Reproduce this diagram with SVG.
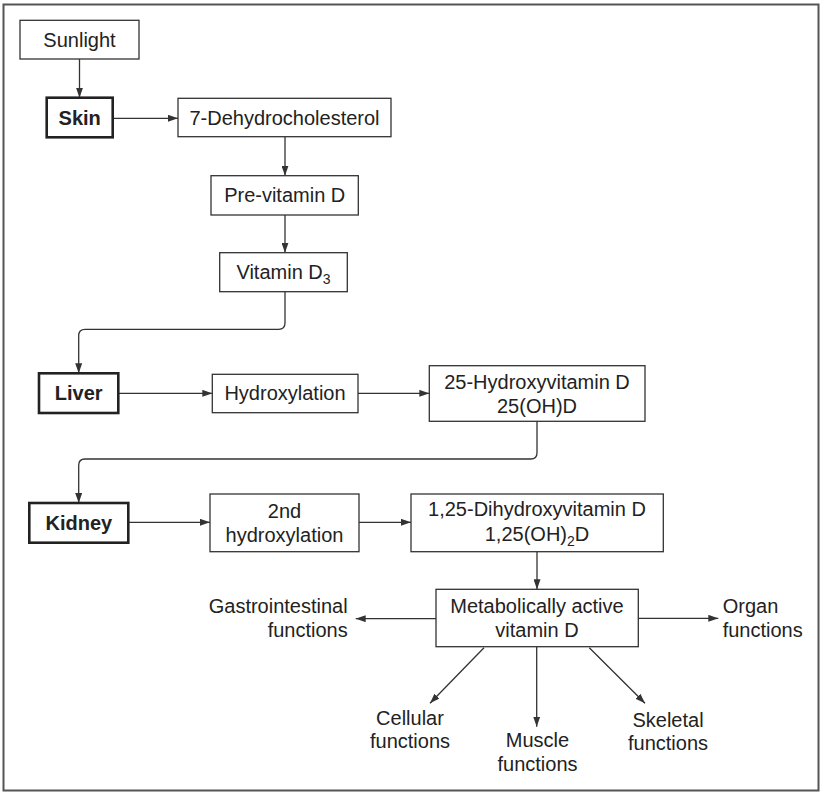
<svg xmlns="http://www.w3.org/2000/svg" width="821" height="792" viewBox="0 0 821 792">
<style>
  .box { fill: #fff; stroke: #333; stroke-width: 1.3; }
  .bold { fill: #fff; stroke: #222; stroke-width: 2.6; }
  .t { font-family: "Liberation Sans", Arial, sans-serif; font-size: 20px; fill: #222; text-anchor: middle; }
  .tb { font-family: "Liberation Sans", Arial, sans-serif; font-size: 20px; font-weight: bold; fill: #222; text-anchor: middle; }
  .l { text-anchor: start; }
  .r { text-anchor: end; }
  .sub { font-size: 14px; }
  .c { fill: none; stroke: #333; stroke-width: 1.3; marker-end: url(#ah); }
</style>
<defs>
  <marker id="ah" markerUnits="userSpaceOnUse" markerWidth="10" markerHeight="7" refX="10" refY="3.5" orient="auto">
    <path d="M0,0 L10,3.5 L0,7 z" fill="#333"/>
  </marker>
</defs>
<rect x="3.5" y="4.5" width="815" height="786" fill="#fff" stroke="#555" stroke-width="2"/>

<g id="connectors">
  <path class="c" d="M79.5,59 V97.7"/>
  <path class="c" d="M112.7,118.3 H178"/>
  <path class="c" d="M285,136.7 V175.7"/>
  <path class="c" d="M285,215 V252.7"/>
  <path class="c" d="M285,291.7 V323 Q285,329.3 278.7,329.3 H85 Q78.7,329.3 78.7,335.6 V373.3"/>
  <path class="c" d="M118.3,393.3 H212.3"/>
  <path class="c" d="M358,393.3 H429.3"/>
  <path class="c" d="M537,421.3 V452.7 Q537,459 530.7,459 H85 Q78.7,459 78.7,465.3 V503"/>
  <path class="c" d="M128.3,522.3 H210"/>
  <path class="c" d="M359,522.3 H411"/>
  <path class="c" d="M537,551.7 V589.3"/>
  <path class="c" d="M436,618.7 H355.7"/>
  <path class="c" d="M638.3,618.3 H718.3"/>
  <path class="c" d="M484,647.7 L430,703.3"/>
  <path class="c" d="M536.7,646.7 V726.7"/>
  <path class="c" d="M589.3,647.7 L645,703.3"/>
</g>

<g id="sunlight">
  <rect class="box" x="20" y="20.3" width="119" height="38.7"/>
  <text class="t" x="79.5" y="46.7">Sunlight</text>
</g>
<g id="skin">
  <rect class="bold" x="46.7" y="97.7" width="66" height="39.6"/>
  <text class="tb" x="79.7" y="124.5">Skin</text>
</g>
<g id="dehydrocholesterol">
  <rect class="box" x="178" y="98.3" width="213" height="38.4"/>
  <text class="t" x="284.5" y="124.5">7-Dehydrocholesterol</text>
</g>
<g id="previtamin">
  <rect class="box" x="211" y="175.7" width="147.3" height="39.3"/>
  <text class="t" x="284.7" y="202.3">Pre-vitamin D</text>
</g>
<g id="vitamind3">
  <rect class="box" x="219.7" y="252.7" width="127.6" height="39"/>
  <text class="t" x="283.5" y="279.2">Vitamin D<tspan class="sub" dy="5">3</tspan></text>
</g>
<g id="liver">
  <rect class="bold" x="39" y="373.3" width="79.3" height="39.7"/>
  <text class="tb" x="78.7" y="400">Liver</text>
</g>
<g id="hydroxylation">
  <rect class="box" x="212.3" y="374.3" width="145.7" height="38.4"/>
  <text class="t" x="285" y="400">Hydroxylation</text>
</g>
<g id="hydroxyvitamin">
  <rect class="box" x="429.3" y="365.7" width="215.7" height="55.6"/>
  <text class="t" x="537" y="389">25-Hydroxyvitamin D</text>
  <text class="t" x="537" y="413">25(OH)D</text>
</g>
<g id="kidney">
  <rect class="bold" x="29.3" y="503" width="99" height="39.7"/>
  <text class="tb" x="78.8" y="529.8">Kidney</text>
</g>
<g id="second-hydroxylation">
  <rect class="box" x="210" y="494" width="149" height="57.7"/>
  <text class="t" x="284.5" y="517.7">2nd</text>
  <text class="t" x="284.5" y="542">hydroxylation</text>
</g>
<g id="dihydroxyvitamin">
  <rect class="box" x="411" y="494" width="252.3" height="57.7"/>
  <text class="t" x="537" y="515.7">1,25-Dihydroxyvitamin D</text>
  <text class="t" x="537" y="540.5">1,25(OH)<tspan class="sub" dy="5">2</tspan><tspan dy="-5">D</tspan></text>
</g>
<g id="active">
  <rect class="box" x="436" y="589.3" width="202.3" height="57.4"/>
  <text class="t" x="537" y="613.3">Metabolically active</text>
  <text class="t" x="537" y="637">vitamin D</text>
</g>
<g id="gastrointestinal">
  <text class="t r" x="347.7" y="613.3">Gastrointestinal</text>
  <text class="t r" x="347.7" y="636.7">functions</text>
</g>
<g id="organ">
  <text class="t l" x="722.7" y="613.3">Organ</text>
  <text class="t l" x="722.7" y="636.7">functions</text>
</g>
<g id="cellular">
  <text class="t" x="410" y="725">Cellular</text>
  <text class="t" x="410" y="748.3">functions</text>
</g>
<g id="muscle">
  <text class="t" x="537.5" y="746.7">Muscle</text>
  <text class="t" x="537.5" y="771">functions</text>
</g>
<g id="skeletal">
  <text class="t" x="668" y="727">Skeletal</text>
  <text class="t" x="668" y="750">functions</text>
</g>
</svg>
